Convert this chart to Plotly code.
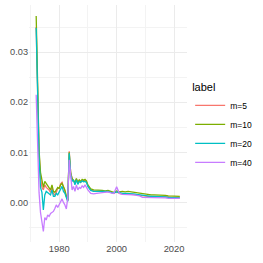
import plotly.graph_objects as go

# time points: semiannual 1972-1990, then annual 1991-2022
t_early = [1972.0 + 0.5 * i for i in range(37)]
t_late = list(range(1991, 2023))
years = t_early + t_late

labels = ["m=5", "m=10", "m=20", "m=40"]
colors = ["#F8766D", "#7CAE00", "#00BFC4", "#C77CFF"]

m5 = [0.035, 0.019, 0.010, 0.005, 0.003, 0.0025, 0.0035, 0.003, 0.0028, 0.0025,
      0.002, 0.003, 0.0018, 0.0015, 0.002, 0.0028, 0.0028, 0.0037, 0.004, 0.003,
      0.0025, 0.001, 0.0003, 0.0102, 0.006, 0.0047, 0.0043, 0.0038, 0.0047, 0.0038,
      0.0043, 0.004, 0.0044, 0.0042, 0.0044, 0.0041, 0.0033,
      0.0025, 0.0023, 0.0023, 0.0022, 0.0022, 0.0021, 0.0022, 0.002, 0.0018, 0.0021,
      0.0018, 0.0017, 0.0016, 0.0016, 0.0016, 0.0016, 0.0015, 0.0014, 0.0013, 0.0012,
      0.0012, 0.0012, 0.0012, 0.0011, 0.0011, 0.0011, 0.0011, 0.0011, 0.001, 0.001,
      0.001, 0.001]

m10 = [0.0372, 0.020, 0.0105, 0.006, 0.0045, 0.0030, 0.0042, 0.0038, 0.0035, 0.0030,
       0.0025, 0.0035, 0.0022, 0.0020, 0.0025, 0.0030, 0.0028, 0.0035, 0.0038, 0.0030,
       0.0025, 0.0012, 0.0005, 0.0100, 0.0060, 0.0048, 0.0045, 0.0040, 0.0048, 0.0040,
       0.0045, 0.0042, 0.0046, 0.0044, 0.0046, 0.0043, 0.0035,
       0.0027, 0.0025, 0.0025, 0.0024, 0.0024, 0.0023, 0.0024, 0.0022, 0.0020, 0.0023,
       0.0021, 0.0022, 0.0021, 0.0022, 0.0021, 0.0020, 0.0020, 0.0018, 0.0017, 0.0016,
       0.0016, 0.0015, 0.0015, 0.0015, 0.0014, 0.0014, 0.0014, 0.0013, 0.0013, 0.0012,
       0.0012, 0.0012]

m20 = [0.0348, 0.018, 0.009, 0.003, 0.002, -0.0015, 0.0015, 0.0022, 0.0020, 0.0017,
       0.0015, 0.0025, 0.0012, 0.0012, 0.0018, 0.0015, 0.0020, 0.0028, 0.0032, 0.0022,
       0.0018, 0.0010, 0.0002, 0.0098, 0.0055, 0.0042, 0.0045, 0.0035, 0.0045, 0.0036,
       0.0042, 0.0040, 0.0043, 0.0041, 0.0042, 0.0040, 0.0032,
       0.0024, 0.0022, 0.0022, 0.0022, 0.0022, 0.0021, 0.0022, 0.0020, 0.0019, 0.0021,
       0.0019, 0.0018, 0.0018, 0.0018, 0.0017, 0.0017, 0.0016, 0.0015, 0.0014, 0.0013,
       0.0013, 0.0012, 0.0012, 0.0012, 0.0011, 0.0011, 0.0011, 0.0010, 0.0010, 0.0009,
       0.0009, 0.0009]

m40 = [0.0215, 0.010, 0.002, -0.002, -0.004, -0.0058, -0.003, -0.0035, -0.0025, -0.0028,
       -0.0022, -0.002, -0.0018, -0.0012, -0.0005, -0.001, -0.0004, 0.0002, 0.0007, 0.0,
       -0.0005, -0.0013, 0.001, 0.0085, 0.005, 0.0025, 0.0032, 0.0022, 0.0035, 0.0025,
       0.003, 0.0028, 0.0033, 0.003, 0.0035, 0.003, 0.0025,
       0.0018, 0.0017, 0.0018, 0.0019, 0.002, 0.002, 0.0021, 0.0019, 0.0018, 0.0031,
       0.0018, 0.0016, 0.0016, 0.0016, 0.0015, 0.0015, 0.0014, 0.0013, 0.0010, 0.0010,
       0.0010, 0.0010, 0.0009, 0.0009, 0.0009, 0.0009, 0.0009, 0.0008, 0.0008, 0.0008,
       0.0008, 0.0008]

series = [m5, m10, m20, m40]

fig = go.Figure()
for lab, col, vals in zip(labels, colors, series):
    fig.add_trace(go.Scatter(x=years, y=vals, mode="lines", name=lab,
                             line=dict(color=col, width=1.3)))

font_fam = "Liberation Sans"
fig.update_layout(
    width=263, height=263,
    margin=dict(l=29, r=76, t=5, b=21, autoexpand=False),
    paper_bgcolor="white", plot_bgcolor="white",
    font=dict(family=font_fam, size=9, color="#4D4D4D"),
    showlegend=True,
    legend=dict(
        title=dict(text="label", font=dict(size=11, color="black")),
        font=dict(size=8.5, color="black"),
        x=1.02, xanchor="left", y=0.485, yanchor="middle",
        bgcolor="rgba(0,0,0,0)", tracegroupgap=0,
    ),
)
fig.update_xaxes(
    range=[1969.5, 2024.5], tickvals=[1980, 2000, 2020], automargin=False,
    tickfont=dict(size=9.4),
    showgrid=True, gridcolor="#EBEBEB", gridwidth=1,
    minor=dict(tickvals=[1970, 1990, 2010], showgrid=True, gridcolor="#F3F3F3", gridwidth=0.6),
    zeroline=False, showline=False, ticks="", ticklen=0,
)
fig.update_yaxes(
    range=[-0.0079, 0.0394], tickvals=[0.0, 0.01, 0.02, 0.03], automargin=False,
    ticktext=["0.00", "0.01", "0.02", "0.03"], tickfont=dict(size=9.2),
    showgrid=True, gridcolor="#EBEBEB", gridwidth=1,
    minor=dict(tickvals=[-0.005, 0.005, 0.015, 0.025, 0.035], showgrid=True,
               gridcolor="#F3F3F3", gridwidth=0.6),
    zeroline=False, showline=False, ticks="", ticklen=0,
)

fig.write_html("out.html", config={"displayModeBar": False},
               post_script="document.body.style.margin='0';")
